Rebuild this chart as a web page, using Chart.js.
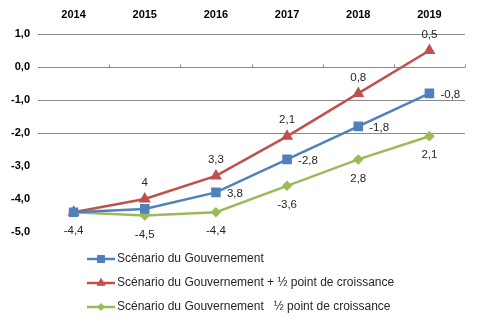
<!DOCTYPE html>
<html>
<head>
<meta charset="utf-8">
<script src="https://cdn.jsdelivr.net/npm/chart.js@4.4.1/dist/chart.umd.min.js"></script>
<style>
  html, body { margin: 0; padding: 0; background: #fff; }
</style>
</head>
<body>
<canvas id="chart" width="480" height="327"></canvas>
<script>
// --- Data ---
const years = ["2014", "2015", "2016", "2017", "2018", "2019"];
const gouv = [-4.4, -4.3, -3.8, -2.8, -1.8, -0.8];
const gouvPlus = [-4.4, -4.0, -3.3, -2.1, -0.8, 0.5];
const gouvMinus = [-4.4, -4.5, -4.4, -3.6, -2.8, -2.1];

// value labels as printed on the picture (some minus signs did not render)
const gouvLabels = [null, null, "3,8", "-2,8", "-1,8", "-0,8"];
const plusLabels = [null, "4", "3,3", "2,1", "0,8", "0,5"];
const minusLabels = ["-4,4", "-4,5", "-4,4", "-3,6", "2,8", "2,1"];

const seriesNames = [
  "Scénario du Gouvernement",
  "Scénario du Gouvernement + ½ point de croissance",
  "Scénario du Gouvernement   ½ point de croissance",
];

const FONT = "'Liberation Sans', Arial, sans-serif";
const BLUE = "#4f81bd";
const RED = "#c0504d";
const GREEN = "#9bbb59";

// where each series puts its value labels
const labelSets = [
  { texts: gouvLabels, place: "right" },
  { texts: plusLabels, place: "above" },
  { texts: minusLabels, place: "below" },
];

// --- Plugins ---
const valueLabels = {
  id: "valueLabels",
  afterDatasetsDraw(chart) {
    const ctx = chart.ctx;
    ctx.save();
    ctx.font = "11.5px " + FONT;
    ctx.fillStyle = "#262626";
    chart.data.datasets.forEach((ds, i) => {
      const set = labelSets[i];
      chart.getDatasetMeta(i).data.forEach((pt, j) => {
        const txt = set.texts[j];
        if (!txt) return;
        ctx.textBaseline = "middle";
        if (set.place === "right") {
          ctx.textAlign = "left";
          ctx.fillText(txt, pt.x + 11, pt.y + 1);
        } else if (set.place === "above") {
          ctx.textAlign = "center";
          ctx.fillText(txt, pt.x, pt.y - 16);
        } else {
          ctx.textAlign = "center";
          ctx.fillText(txt, pt.x, pt.y + 19);
        }
      });
    });
    ctx.restore();
  },
};

// small tick marks on the zero line, between categories
const zeroTicks = {
  id: "zeroTicks",
  afterDraw(chart) {
    const { ctx, chartArea } = chart;
    const x = chart.scales.x;
    const y0 = Math.round(chart.scales.y.getPixelForValue(0)) + 0.5;
    const half = (x.getPixelForValue(1) - x.getPixelForValue(0)) / 2;
    ctx.save();
    ctx.strokeStyle = "#8a8a8a";
    ctx.lineWidth = 1;
    ctx.beginPath();
    for (let k = 0; k <= years.length; k++) {
      const px = Math.round(x.getPixelForValue(k) - half) + 0.5;
      if (px < chartArea.left + 2) continue;
      ctx.moveTo(px, y0 - 3);
      ctx.lineTo(px, y0);
    }
    ctx.stroke();
    ctx.restore();
  },
};

// legend stacked below the plot, left-aligned on one column
const sideLegend = {
  id: "sideLegend",
  afterDraw(chart) {
    const ctx = chart.ctx;
    const x0 = 87, lineLen = 28, top = chart.chartArea.bottom + 27, rowH = 24;
    ctx.save();
    chart.data.datasets.forEach((ds, i) => {
      const y = top + i * rowH;
      ctx.strokeStyle = ds.borderColor;
      ctx.lineWidth = 2.5;
      ctx.beginPath();
      ctx.moveTo(x0, y);
      ctx.lineTo(x0 + lineLen, y);
      ctx.stroke();
      ctx.fillStyle = ds.pointBackgroundColor;
      ctx.strokeStyle = ds.pointBorderColor;
      ctx.lineWidth = 1;
      Chart.helpers.drawPoint(ctx, {
        pointStyle: ds.pointStyle,
        radius: ds.pointRadius,
        rotation: 0,
        borderWidth: 1,
      }, x0 + lineLen / 2, y);
      ctx.fillStyle = "#262626";
      ctx.font = "12px " + FONT;
      ctx.textAlign = "left";
      ctx.textBaseline = "middle";
      ctx.fillText(ds.label, x0 + lineLen + 2, y);
    });
    ctx.restore();
  },
};

// --- Chart ---
const ctx = document.getElementById("chart").getContext("2d");
new Chart(ctx, {
  type: "line",
  data: {
    labels: years,
    datasets: [
      {
        label: seriesNames[0],
        data: gouv,
        borderColor: BLUE,
        backgroundColor: BLUE,
        pointBackgroundColor: BLUE,
        pointBorderColor: BLUE,
        pointStyle: "rect",
        pointRadius: 5,
        borderWidth: 2.5,
      },
      {
        label: seriesNames[1],
        data: gouvPlus,
        borderColor: RED,
        backgroundColor: RED,
        pointBackgroundColor: RED,
        pointBorderColor: RED,
        pointStyle: "triangle",
        pointRadius: 4.5,
        borderWidth: 2.5,
      },
      {
        label: seriesNames[2],
        data: gouvMinus,
        borderColor: GREEN,
        backgroundColor: GREEN,
        pointBackgroundColor: GREEN,
        pointBorderColor: GREEN,
        pointStyle: "rectRot",
        pointRadius: 3.5,
        borderWidth: 2.5,
      },
    ],
  },
  options: {
    responsive: false,
    animation: false,
    devicePixelRatio: 1,
    layout: { padding: { left: 7, right: 15, top: 0, bottom: 95 } },
    elements: { line: { tension: 0 } },
    plugins: {
      legend: { display: false },
      tooltip: { enabled: false },
    },
    scales: {
      x: {
        position: "top",
        offset: true,
        grid: { display: false },
        border: { display: false },
        ticks: {
          color: "#000",
          padding: 4,
          font: { family: FONT, size: 11, weight: "bold" },
        },
        afterFit: (s) => { s.height = 34; },
      },
      y: {
        min: -5,
        max: 1,
        ticks: {
          stepSize: 1,
          color: "#000",
          padding: 8,
          font: { family: FONT, size: 11, weight: "bold" },
          callback: (v) => v.toFixed(1).replace(".", ","),
        },
        grid: {
          drawTicks: false,
          lineWidth: 1,
          color: (c) => (c.tick && c.tick.value >= -2 ? "#8a8a8a" : "rgba(0,0,0,0)"),
        },
        border: { display: false },
        afterFit: (s) => { s.width = 31; },
      },
    },
  },
  plugins: [valueLabels, zeroTicks, sideLegend],
});
</script>
</body>
</html>
